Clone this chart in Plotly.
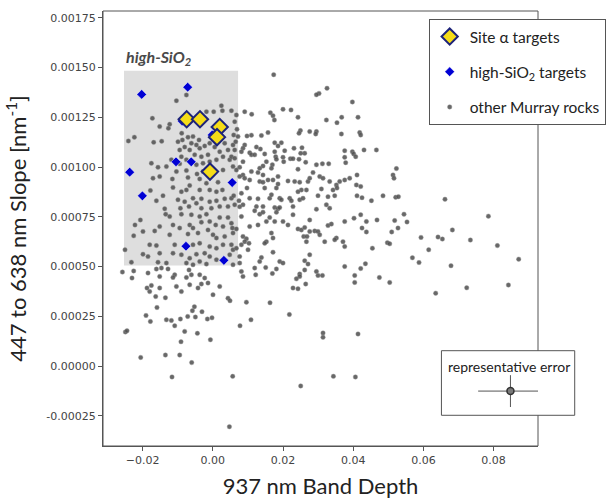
import plotly.graph_objects as go

# ---------------- data ----------------
site_alpha_x = [-0.00744, -0.00365, 0.00197, 0.0012, -0.0008]
site_alpha_y = [0.00124, 0.00124, 0.001201, 0.00115, 0.000977]

high_sio2_x = [-0.00872, -0.00017, -0.02026, -0.00715, -0.02368, -0.01048, -0.00615,
               0.00553, -0.02006, -0.00764, 0.00316]
high_sio2_y = [0.001231, 0.001161, 0.001365, 0.001401, 0.000974, 0.001026, 0.001026,
               0.000922, 0.000855, 0.000602, 0.000531]

murray_upper_left = [
    (-0.00752, 0.001362), (-0.01037, 0.001333), (0.00245, 0.001308), (0.00026, 0.001278),
    (0.00274, 0.001283), (0.0053, 0.001283), (-0.00182, 0.001278), (-0.01721, 0.001245),
    (-0.01228, 0.001215), (-0.01513, 0.001203), (-0.01265, 0.001195), (-0.00886, 0.00117),
    (-0.02234, 0.00115), (-0.02405, 0.001131), (-0.01684, 0.001124), (-0.01456, 0.00113),
    (-0.00992, 0.001127), (-0.00866, 0.001136), (-0.00707, 0.00115), (-0.0061, 0.00112),
    (-0.00801, 0.0011), (-0.00943, 0.001086), (-0.00658, 0.001086), (-0.00467, 0.001111),
    (-0.00373, 0.001094), (-0.00231, 0.001106), (-0.00088, 0.00112), (-0.00516, 0.001061),
    (-0.00325, 0.001052), (-0.00137, 0.001061), (-0.00895, 0.001052), (-0.00752, 0.001036),
    (-0.00943, 0.001016), (-0.00467, 0.001011), (-0.00279, 0.001019), (-0.00088, 0.001027),
    (0.00103, 0.001036), (0.00291, 0.001052), (0.00433, 0.001086), (0.00576, 0.001111),
    (0.00482, 0.001036), (-0.0175, 0.001019), (-0.01561, 0.000999), (-0.01322, 0.001002),
    (-0.0118, 0.001036), (-0.01037, 0.000977), (-0.00752, 0.000982), (-0.0045, 0.000965),
    (-0.00279, 0.000977), (0.00291, 0.000985), (0.00576, 0.001002), (-0.01513, 0.000952),
    (0.00339, 0.00112), (0.00197, 0.001077), (0.00054, 0.0011), (-0.00564, 0.001153),
    (-0.00393, 0.001136),
]

murray_upper_mid = [
    (0.01735, 0.001464), (0.03254, 0.001396), (0.03026, 0.00137), (0.02952, 0.001363),
    (0.03977, 0.001327), (0.00672, 0.001261), (0.00624, 0.001228), (0.00909, 0.001278),
    (0.01108, 0.001265), (0.01641, 0.001273), (0.01715, 0.001258), (0.01755, 0.001236),
    (0.02, 0.00129), (0.02228, 0.001287), (0.02427, 0.00125), (0.03236, 0.001236),
    (0.03538, 0.001223), (0.03672, 0.00125), (0.02496, 0.001183), (0.02456, 0.00117),
    (0.02761, 0.001178), (0.02952, 0.001178), (0.02932, 0.001166), (0.03664, 0.001166),
    (0.01573, 0.001173), (0.01385, 0.001158), (0.011, 0.00116), (0.00974, 0.001156),
    (0.00689, 0.00119), (0.00718, 0.001153), (0.00595, 0.001161), (0.00652, 0.001127),
    (0.01764, 0.001122), (0.01954, 0.001122), (0.01858, 0.001106), (0.02048, 0.001082),
    (0.01764, 0.001077), (0.02313, 0.001094), (0.02541, 0.001097), (0.02618, 0.001069),
    (0.02504, 0.001069), (0.00909, 0.001111), (0.0086, 0.001094), (0.00815, 0.001077),
    (0.01242, 0.0011), (0.01356, 0.00109), (0.01051, 0.001072), (0.011, 0.001061),
    (0.01194, 0.001061), (0.01479, 0.001066), (0.01792, 0.001052), (0.02, 0.001049),
    (0.02211, 0.001042), (0.02285, 0.001042), (0.02456, 0.001039), (0.0202, 0.001027),
    (0.01812, 0.001039), (0.01698, 0.001011), (0.0167, 0.000994), (0.01527, 0.001027),
    (0.0143, 0.001005), (0.01336, 0.000994), (0.0086, 0.001027), (0.00766, 0.000999),
    (0.011, 0.000977), (0.01288, 0.000972), (0.0143, 0.00096), (0.01858, 0.000952),
    (0.02855, 0.000972), (0.02647, 0.001024), (0.02952, 0.001011), (0.03123, 0.001016),
    (0.03302, 0.001016), (0.02427, 0.000989), (0.03046, 0.000952), (0.0314, 0.000944),
    (0.03758, 0.001049), (0.03786, 0.001022), (0.03758, 0.001082), (0.039, 0.000944),
    (0.0053, 0.001052), (0.00624, 0.001086), (0.00672, 0.000985), (0.0086, 0.00096),
    (0.00766, 0.000952), (0.00624, 0.001044),
]

murray_lower_left = [
    (-0.01704, 0.000944), (-0.01151, 0.00094), (-0.00707, 0.000947), (-0.00373, 0.00094),
    (-0.00182, 0.000919), (0.00148, 0.000924), (-0.01778, 0.000882), (-0.01134, 0.000897),
    (-0.00895, 0.000876), (-0.00752, 0.000885), (-0.00658, 0.000907), (-0.00373, 0.000885),
    (-0.00088, 0.000885), (0.00103, 0.000876), (0.00274, 0.000885), (-0.01607, 0.00083),
    (-0.01419, 0.000856), (-0.00992, 0.000835), (-0.00801, 0.000826), (-0.00564, 0.000843),
    (-0.00467, 0.000818), (-0.00325, 0.00084), (-0.00088, 0.000826), (0.00103, 0.00083),
    (0.00339, 0.00084), (-0.00678, 0.000801), (-0.00325, 0.000793), (-0.0004, 0.000793),
    (0.00197, 0.000801), (0.00433, 0.000801), (-0.0137, 0.00079), (-0.00923, 0.000793),
    (-0.01342, 0.000763), (-0.01228, 0.000751), (-0.00895, 0.000763), (-0.0061, 0.00076),
    (-0.00373, 0.000751), (-0.00182, 0.000763), (0.00197, 0.000746), (0.00433, 0.000746),
    (-0.02063, 0.000734), (-0.02217, 0.000709), (-0.01513, 0.000701), (-0.01134, 0.000709),
    (-0.00943, 0.000693), (-0.00658, 0.000709), (-0.00564, 0.000693), (-0.00325, 0.000723),
    (-0.00088, 0.000726), (0.00083, 0.000709), (0.00291, 0.000701), (0.0053, 0.000718),
    (-0.01989, 0.000676), (-0.02254, 0.000654), (-0.01655, 0.000679), (-0.01228, 0.000659),
    (-0.00707, 0.000663), (-0.00422, 0.000668), (-0.00137, 0.000684), (0.00006, 0.000659),
    (0.00103, 0.000643), (0.00339, 0.000651), (0.00576, 0.000668), (-0.01798, 0.000609),
    (-0.01607, 0.000605), (-0.01085, 0.000609), (-0.00564, 0.000609), (-0.00373, 0.000617),
    (-0.00088, 0.0006), (0.00103, 0.000592), (0.00291, 0.000609), (0.0053, 0.000609),
    (-0.02501, 0.000584), (-0.01989, 0.000562), (-0.01846, 0.00055), (-0.01513, 0.000567),
    (-0.01134, 0.000567), (-0.00895, 0.000559), (-0.00658, 0.000542), (-0.00467, 0.000562),
    (-0.00231, 0.000567), (-0.00088, 0.00055), (0.00103, 0.000534), (0.00482, 0.000559),
    (0.00576, 0.000584), (-0.02319, 0.000522), (-0.01561, 0.000522), (-0.01322, 0.000517),
    (-0.00752, 0.000517), (-0.00564, 0.000509), (-0.00373, 0.000525), (-0.00182, 0.000512),
    (-0.02575, 0.000472), (-0.02254, 0.000478), (-0.01846, 0.000467), (-0.01607, 0.000487),
    (-0.01464, 0.000492), (-0.01276, 0.000488), (-0.01085, 0.000458), (-0.01134, 0.000445),
    (-0.01513, 0.00045), (-0.00678, 0.000483), (-0.0061, 0.000458), (-0.00373, 0.000458),
    (-0.00231, 0.000442), (-0.00137, 0.000417), (-0.00325, 0.000412), (-0.00752, 0.000445),
    (-0.02302, 0.000442), (-0.0175, 0.000405), (-0.01875, 0.000392), (-0.01798, 0.000374),
    (-0.01513, 0.000392), (-0.01037, 0.0004), (-0.00895, 0.000374), (-0.00658, 0.000408),
    (-0.00422, 0.000392), (0.00197, 0.0004), (0.00006, 0.000358), (0.00433, 0.000341),
]

murray_lower_mid = [
    (0.00909, 0.000944), (0.01051, 0.000935), (0.00974, 0.000894), (0.00815, 0.000868),
    (0.0053, 0.000843), (0.00595, 0.000856), (0.00746, 0.00083), (0.0086, 0.00081),
    (0.00766, 0.0008), (0.00624, 0.00081), (0.01336, 0.000927), (0.0143, 0.000924),
    (0.01573, 0.000935), (0.01715, 0.000935), (0.01858, 0.000914), (0.01479, 0.000894),
    (0.01812, 0.000894), (0.02142, 0.00093), (0.02333, 0.000927), (0.02476, 0.000924),
    (0.02712, 0.000927), (0.02761, 0.000944), (0.0333, 0.000927), (0.03521, 0.00091),
    (0.03615, 0.000927), (0.03758, 0.000935), (0.02524, 0.000885), (0.02427, 0.000876),
    (0.02667, 0.000885), (0.03094, 0.00089), (0.03425, 0.000885), (0.03538, 0.000894),
    (0.01051, 0.000843), (0.01288, 0.00084), (0.01621, 0.000843), (0.0167, 0.00086),
    (0.01906, 0.000843), (0.01954, 0.000835), (0.02191, 0.000843), (0.02239, 0.00083),
    (0.02476, 0.000835), (0.0257, 0.000843), (0.02997, 0.000856), (0.03282, 0.000851),
    (0.03473, 0.000856), (0.01242, 0.000801), (0.0143, 0.000801), (0.01764, 0.000796),
    (0.01858, 0.00079), (0.01906, 0.000796), (0.02285, 0.000801), (0.02952, 0.000788),
    (0.03236, 0.00081), (0.0333, 0.000793), (0.01194, 0.00078), (0.01336, 0.000763),
    (0.0143, 0.000773), (0.01621, 0.000746), (0.01812, 0.000773), (0.02285, 0.00076),
    (0.00815, 0.000751), (0.01051, 0.000701), (0.01288, 0.000709), (0.01527, 0.000726),
    (0.01764, 0.000726), (0.02, 0.000726), (0.02142, 0.000709), (0.02427, 0.000689),
    (0.02524, 0.000684), (0.02618, 0.000696), (0.02761, 0.000734), (0.02761, 0.000676),
    (0.02903, 0.000679), (0.02997, 0.000676), (0.03046, 0.000659), (0.03282, 0.000706),
    (0.03379, 0.000713), (0.03758, 0.000726), (0.00558, 0.000693), (0.00672, 0.000689),
    (0.0167, 0.000668), (0.01715, 0.000643), (0.0259, 0.000651), (0.02684, 0.000651),
    (0.02667, 0.000625), (0.0086, 0.000651), (0.00957, 0.000639), (0.00909, 0.000625),
    (0.00815, 0.000609), (0.01031, 0.000617), (0.01527, 0.000625), (0.01479, 0.000617),
    (0.03521, 0.000643), (0.03473, 0.000634), (0.03709, 0.000625), (0.03758, 0.0006),
    (0.03188, 0.000625), (0.00672, 0.000592), (0.00766, 0.00055), (0.01003, 0.000584),
    (0.01715, 0.000572), (0.02761, 0.000559), (0.01385, 0.000545), (0.01336, 0.000525),
    (0.01906, 0.000525), (0.02, 0.000517), (0.02618, 0.000529), (0.02712, 0.000512),
    (0.00576, 0.000509), (0.00766, 0.000517), (0.03758, 0.0005), (0.01194, 0.000492),
    (0.01507, 0.000495), (0.01812, 0.000488), (0.02618, 0.000483), (0.02952, 0.000475),
    (0.00815, 0.000475), (0.01698, 0.000465), (0.02476, 0.000462), (0.02476, 0.00045),
    (0.02382, 0.000438), (0.02997, 0.000455), (0.03123, 0.000455), (0.01222, 0.000458),
    (0.0086, 0.00045), (0.02647, 0.000412), (0.02285, 0.000392), (0.02427, 0.000388),
]

murray_right = [
    (0.04137, 0.00125), (0.04185, 0.001173), (0.04214, 0.001161), (0.03977, 0.001077),
    (0.04014, 0.001066), (0.04071, 0.001052), (0.04308, 0.001086), (0.04661, 0.001086),
    (0.05231, 0.000992), (0.05134, 0.00096), (0.05162, 0.000944), (0.04108, 0.00096),
    (0.04091, 0.00091), (0.04214, 0.000902), (0.04108, 0.000855), (0.04251, 0.000846),
    (0.04519, 0.000831), (0.04849, 0.000855), (0.05211, 0.000848), (0.05288, 0.000851),
    (0.06615, 0.000838), (0.04023, 0.000743), (0.04214, 0.00076), (0.04376, 0.000726),
    (0.04678, 0.000734), (0.05182, 0.000731), (0.05447, 0.000763), (0.05533, 0.000724),
    (0.04251, 0.000693), (0.04376, 0.000674), (0.05097, 0.000674), (0.05276, 0.000693),
    (0.07852, 0.000753), (0.06826, 0.000684), (0.05932, 0.000646), (0.06416, 0.000648),
    (0.06541, 0.000638), (0.07339, 0.000633), (0.08108, 0.000605), (0.04974, 0.00062),
    (0.0504, 0.000614), (0.04547, 0.000592), (0.06151, 0.000584), (0.05687, 0.000544),
    (0.05875, 0.00052), (0.06786, 0.000504), (0.08715, 0.000537), (0.04348, 0.000514),
    (0.04214, 0.00049), (0.04043, 0.000455), (0.04043, 0.00042), (0.04746, 0.000445),
    (0.0504, 0.00042), (0.0635, 0.000366), (0.07234, 0.000393), (0.08422, 0.000407),
]

murray_low = [
    (-0.01627, 0.000349), (-0.0135, 0.000343), (0.0049, 0.000328), (0.00957, 0.000321),
    (0.0163, 0.000318), (0.02182, 0.000259), (-0.0159, 0.000294), (-0.01903, 0.000254),
    (-0.01778, 0.000224), (-0.01322, 0.000232), (-0.0118, 0.000229), (-0.01085, 0.000202),
    (-0.00923, 0.000236), (-0.00715, 0.000249), (-0.00581, 0.000278), (-0.00524, 0.000298),
    (-0.00496, 0.000246), (-0.00308, 0.000273), (-0.00154, 0.000236), (-0.00023, 0.000242),
    (0.00775, 0.000202), (0.01088, 0.000232), (-0.0249, 0.000171), (-0.02444, 0.000177),
    (-0.00801, 0.000174), (-0.00439, 0.000164), (-0.00906, 0.000122), (-0.00068, 0.000132),
    (0.0314, 0.000166), (0.0314, 0.000144), (0.04137, 0.000161), (-0.02054, 0.000043),
    (-0.0135, 0.000055), (-0.00943, 0.000055), (-0.00601, 0.000017), (-0.01162, -0.000055),
    (0.00567, -0.000052), (0.03436, -0.000052), (0.04063, -0.000055), (0.02504, -0.0001),
    (0.00473, -0.000305),
]

# high-SiO2 region (x range, y range)
region_x = [-0.0253, 0.0072]
region_y = [0.000505, 0.001484]

# representative error
err_center_x = [0.0848]
err_center_y = [-0.000126]
err_dx = [0.0092]
err_dy = [0.00008]

x_range = [-0.03128, 0.09265]
y_range = [-0.000402, 0.001784]
y_tickvals = [-0.00025, 0.0, 0.00025, 0.0005, 0.00075, 0.001, 0.00125, 0.0015, 0.00175]
y_ticktext = ["-0.00025", "0.00000", "0.00025", "0.00050", "0.00075",
              "0.00100", "0.00125", "0.00150", "0.00175"]

# ---------------- figure ----------------
murray = (murray_upper_left + murray_upper_mid + murray_lower_left
          + murray_lower_mid + murray_right + murray_low)
murray_x = [p[0] for p in murray]
murray_y = [p[1] for p in murray]

LABEL_FONT = "Lato"
fig = go.Figure()

fig.add_trace(go.Scatter(
    x=murray_x, y=murray_y, mode="markers", name="other Murray rocks",
    legendrank=3, legendgroup="c",
    marker=dict(size=4.5, color="rgba(78,78,78,0.85)",
                line=dict(width=0.5, color="rgba(150,150,150,0.8)")),
))
fig.add_trace(go.Scatter(
    x=high_sio2_x, y=high_sio2_y, mode="markers",
    name="high-SiO<sub>2</sub> targets", legendrank=2, legendgroup="b",
    marker=dict(symbol="diamond", size=7.5, color="#0000d4",
                line=dict(width=0.5, color="white")),
))
fig.add_trace(go.Scatter(
    x=site_alpha_x, y=site_alpha_y, mode="markers", name="Site \u03b1 targets",
    legendrank=1, legendgroup="a",
    marker=dict(symbol="diamond", size=12.5, color="#f5dc18",
                line=dict(width=2, color="#1d2379")),
))
fig.add_trace(go.Scatter(
    x=err_center_x, y=err_center_y, mode="markers", showlegend=False,
    marker=dict(size=7, color="#7a7a7a", line=dict(width=1.5, color="#333333")),
    error_x=dict(type="data", array=err_dx, width=0, thickness=1, color="#555555"),
    error_y=dict(type="data", array=err_dy, width=0, thickness=1, color="#555555"),
))

shapes = [
    dict(type="rect", xref="x", yref="y", x0=region_x[0], x1=region_x[1],
         y0=region_y[0], y1=region_y[1], fillcolor="#dedede",
         line=dict(width=0), layer="below"),
    dict(type="rect", xref="paper", yref="paper", x0=0, x1=1, y0=0, y1=1,
         line=dict(color="#555555", width=1), layer="below"),
    dict(type="rect", xref="paper", yref="paper", x0=0.778, x1=1.0844,
         y0=0.0706, y1=0.2191, fillcolor="white",
         line=dict(color="#555555", width=1), layer="below"),
]

annotations = [
    dict(x=region_x[0], y=region_y[1], xref="x", yref="y", xanchor="left",
         yanchor="bottom", yshift=1, showarrow=False,
         text="<b><i>high-SiO<sub>2</sub></i></b>",
         font=dict(family=LABEL_FONT, size=16, color="#4a4a4a")),
    dict(x=0.9326, y=0.1839, xref="paper", yref="paper", xanchor="center",
         yanchor="middle", showarrow=False, text="representative error",
         font=dict(family=LABEL_FONT, size=14, color="#222222")),
]

fig.update_layout(
    width=608, height=499,
    margin=dict(l=103, r=70, t=11, b=53, autoexpand=False),
    paper_bgcolor="white", plot_bgcolor="white",
    shapes=shapes, annotations=annotations,
    legend=dict(x=0.7487, y=0.9816, xanchor="left", yanchor="top",
                bgcolor="white", bordercolor="#555555", borderwidth=1,
                font=dict(family=LABEL_FONT, size=15.5, color="#222222"),
                traceorder="grouped", tracegroupgap=12),
    xaxis=dict(range=x_range, showline=True, linecolor="#555555", linewidth=1,
               ticks="outside", ticklen=4, tickcolor="#555555",
               tick0=0, dtick=0.02, tickformat=".2f",
               tickfont=dict(family="DejaVu Sans", size=11, color="#444444"),
               showgrid=False, zeroline=False,
               title=dict(text="937 nm Band Depth", standoff=13,
                          font=dict(family=LABEL_FONT, size=22, color="#222222"))),
    yaxis=dict(range=y_range, showline=True, linecolor="#555555", linewidth=1,
               ticks="outside", ticklen=4, tickcolor="#555555",
               tickvals=y_tickvals, ticktext=y_ticktext,
               tickfont=dict(family="DejaVu Sans", size=11, color="#444444"),
               showgrid=False, zeroline=False,
               title=dict(text="447 to 638 nm Slope [nm<sup>-1</sup>]", standoff=13,
                          font=dict(family=LABEL_FONT, size=22, color="#222222"))),
)

fig.write_html("out.html")
